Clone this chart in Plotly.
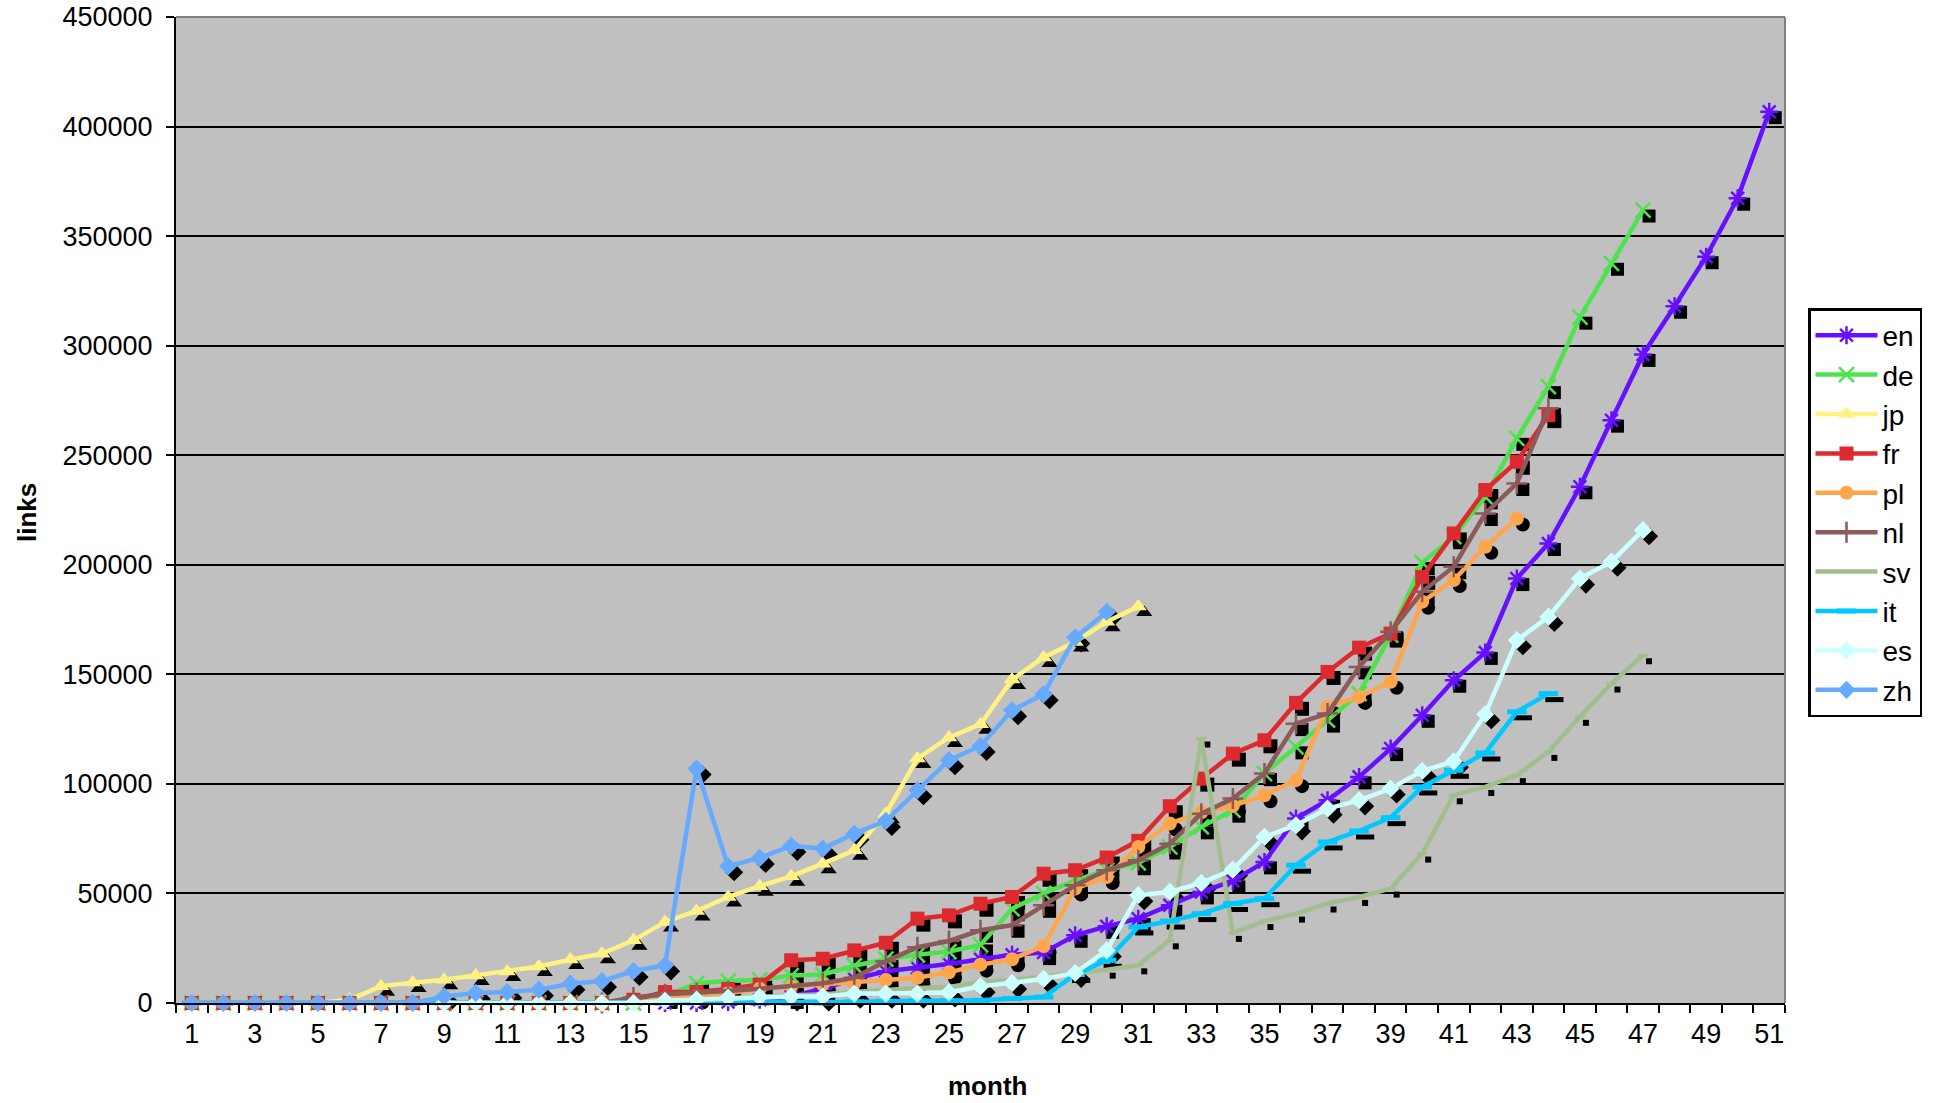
import plotly.graph_objects as go

# ---------------- data ----------------
months = list(range(1, 52))
tick_months = list(range(1, 52, 2))
y_ticks = list(range(0, 450001, 50000))

en_start = 16
en = [0, 0, 500, 1500, 3000, 6500, 11000, 14500, 16000, 17800, 20000, 22000, 23000,
      30900, 35000, 38500, 44600, 50700, 55700, 64400, 84200, 92500, 103200, 116100,
      131300, 147300, 160000, 193700, 209700, 235600, 266000, 296000, 318000, 340600,
      367300, 406800]

de_start = 1
de = [0] * 15 + [3000, 9000, 10000, 10500, 12500, 13000, 17000, 20000, 22000, 23500, 26500,
                 43000, 50000, 56000, 60600, 64000, 71200, 80400, 88000, 104700, 116900,
                 129100, 141200, 167900, 201000, 212800, 231000, 257700, 281300, 313000,
                 337600, 361900]

jp_start = 1
jp = [0, 0, 0, 0, 0, 1500, 7700, 9300, 10600, 12600, 14400, 16700, 19800, 22500, 28600,
      37000, 42000, 48400, 53300, 57800, 63600, 69700, 86400, 111600, 121200, 127200,
      147600, 157700, 164800, 174000, 181000]

fr_start = 1
fr = [0] * 14 + [1500, 5000, 5000, 6400, 8400, 19500, 20200, 24000, 27500, 38500, 40000,
                 45300, 48400, 59000, 60600, 66400, 74000, 89800, 102400, 113800, 119900,
                 137000, 151100, 162200, 168600, 194500, 214300, 234100, 247000, 268300]

pl_start = 1
pl = [0] * 15 + [2000, 3000, 4500, 6500, 7500, 8500, 9000, 10500, 11500, 14000, 17500,
                 20000, 26000, 52200, 57500, 71200, 81900, 87000, 90000, 94800, 101700,
                 135200, 139700, 146600, 183100, 193000, 208200, 221100]

nl_start = 14
nl = [0, 2500, 4000, 4600, 5500, 6500, 7600, 9000, 11500, 19000, 25500, 28300, 33200,
      35500, 44600, 53700, 60600, 65100, 72700, 86400, 93300, 104700, 127500, 132100,
      153400, 169400, 187700, 199100, 223400, 237100, 271400]

sv_start = 16
sv = [1000, 1500, 2000, 2500, 3000, 4000, 5000, 6000, 6800, 7300, 9600, 10500, 11900,
      13400, 15200, 17200, 28600, 120700, 32000, 37400, 40800, 45400, 48400, 52200,
      68200, 94800, 98600, 104000, 114600, 130600, 145800, 158700]

it_start = 1
it = [0] * 21 + [500, 800, 1000, 1000, 1200, 2000, 2700, 13000, 19500, 34700, 37400,
                 40800, 45400, 47600, 62900, 73500, 78500, 84600, 98600, 106200, 114100,
                 132900, 141200]

es_start = 9
es = [0] * 7 + [1000, 1500, 2400, 2700, 3000, 3000, 4300, 4300, 4300, 4800, 7600, 9100,
                11000, 13700, 24000, 49200, 50700, 54800, 60900, 75800, 81100, 88700,
                92500, 97900, 105900, 110300, 131800, 165600, 176200, 193700, 201400,
                215800]

zh_start = 1
zh = [0] * 8 + [3000, 4600, 5000, 6100, 8800, 10000, 14600, 17200, 107000, 62400, 66200,
                71700, 70500, 77300, 83100, 97100, 110800, 117300, 133600, 140900, 166800,
                178500]

series = [
    ("en", en_start, en), ("de", de_start, de), ("jp", jp_start, jp),
    ("fr", fr_start, fr), ("pl", pl_start, pl), ("nl", nl_start, nl),
    ("sv", sv_start, sv), ("it", it_start, it), ("es", es_start, es),
    ("zh", zh_start, zh),
]

# ---------------- styles ----------------
colors = {"en": "#6610FF", "de": "#4FE24F", "jp": "#FFF283", "fr": "#DC2A2E",
          "pl": "#FFA64D", "nl": "#8C5A5A", "sv": "#A2BE8E", "it": "#00C8FF",
          "es": "#CCFFFF", "zh": "#66AAFF"}
markers = {
    "en": dict(symbol="asterisk-open", size=15, line=dict(width=2.5)),
    "de": dict(symbol="x-thin-open", size=15, line=dict(width=2.5)),
    "jp": dict(symbol="triangle-up", size=15, line=dict(width=0)),
    "fr": dict(symbol="square", size=14, line=dict(width=0)),
    "pl": dict(symbol="circle", size=14, line=dict(width=0)),
    "nl": dict(symbol="cross-thin-open", size=15, line=dict(width=2.5)),
    "sv": dict(symbol="line-ew-open", size=7, line=dict(width=3)),
    "it": dict(symbol="line-ew-open", size=14, line=dict(width=5)),
    "es": dict(symbol="diamond", size=14, line=dict(width=0)),
    "zh": dict(symbol="diamond", size=14, line=dict(width=0)),
}
shadow_markers = {
    "en": dict(symbol="square", size=13), "de": dict(symbol="square", size=13),
    "jp": dict(symbol="triangle-up", size=14), "fr": dict(symbol="square", size=14),
    "pl": dict(symbol="circle", size=14), "nl": dict(symbol="square", size=13),
    "sv": dict(symbol="square", size=6), "it": dict(symbol="line-ew-open", size=13,
                                                    line=dict(width=5, color="black")),
    "es": dict(symbol="diamond", size=14), "zh": dict(symbol="diamond", size=14),
}

W, H = 1942, 1103
ML, MR, MT, MB = 176, 157, 17, 100
plot_w = W - ML - MR
plot_h = H - MT - MB
x_range = [0.5, 51.5]
y_range = [0, 450000]
shift_px = 6
dx = shift_px * (x_range[1] - x_range[0]) / plot_w
dy = shift_px * (y_range[1] - y_range[0]) / plot_h

fig = go.Figure()

# invisible anchor trace for the base axes (ticks, grid)
fig.add_trace(go.Scatter(x=[months[0]], y=[y_ticks[0]], mode="markers",
                         marker=dict(opacity=0), showlegend=False, hoverinfo="skip"))

# shadows (drawn on shifted overlay axes)
for name, start, vals in series:
    xs = months[start - 1:start - 1 + len(vals)]
    m = dict(color="black")
    m.update(shadow_markers[name])
    fig.add_trace(go.Scatter(x=xs, y=vals, mode="markers", marker=m, xaxis="x2",
                             yaxis="y2", showlegend=False, hoverinfo="skip",
                             cliponaxis=False))

# series
for name, start, vals in series:
    xs = months[start - 1:start - 1 + len(vals)]
    m = dict(color=colors[name])
    m.update(markers[name])
    if "line" in m:
        m["line"] = dict(m["line"], color=colors[name])
    fig.add_trace(go.Scatter(x=xs, y=vals, mode="lines+markers", name=name,
                             legendgroup=name,
                             line=dict(color=colors[name], width=4.5), marker=m,
                             xaxis="x3", yaxis="y3", cliponaxis=False))

font_family = "Arial, Liberation Sans, sans-serif"
fig.update_layout(
    width=W, height=H,
    margin=dict(l=ML, r=MR, t=MT, b=MB, pad=0, autoexpand=False),
    paper_bgcolor="white", plot_bgcolor="#C0C0C0",
    font=dict(family=font_family, size=26, color="black"),
    showlegend=True,
    xaxis=dict(range=x_range, tickvals=tick_months, ticktext=[str(v) for v in tick_months],
               ticks="", showgrid=False, zeroline=False, showline=True,
               linecolor="black", linewidth=2, ticklabelstandoff=6, automargin=False,
               tickfont=dict(size=27),
               minor=dict(tick0=0.5, dtick=1, ticks="outside", ticklen=8,
                          tickwidth=2, tickcolor="black", showgrid=False)),
    yaxis=dict(range=y_range, tickvals=y_ticks, tickformat="d", ticks="outside",
               ticklen=8, tickwidth=2, automargin=False,
               tickcolor="black", showgrid=True, gridcolor="black", gridwidth=2,
               zeroline=False, showline=True, linecolor="black", linewidth=2,
               tickfont=dict(size=27), ticklabelstandoff=8),
    xaxis2=dict(range=[x_range[0] - dx, x_range[1] - dx], overlaying="x", anchor="y2",
                visible=False),
    yaxis2=dict(range=[y_range[0] + dy, y_range[1] + dy], overlaying="y", anchor="x2",
                visible=False),
    xaxis3=dict(range=x_range, overlaying="x", anchor="y3", visible=False),
    yaxis3=dict(range=y_range, overlaying="y", anchor="x3", visible=False),
    legend=dict(x=(1808 - ML) / plot_w, y=(H - MB - 308) / plot_h, xanchor="left",
                yanchor="top", bgcolor="white", bordercolor="black", borderwidth=2.5,
                font=dict(size=28), tracegroupgap=18, traceorder="normal",
                itemwidth=62),
    shapes=[
        dict(type="line", xref="paper", yref="paper", x0=0, x1=1, y0=1, y1=1,
             line=dict(color="#808080", width=2), layer="above"),
        dict(type="line", xref="paper", yref="paper", x0=1, x1=1, y0=0, y1=1,
             line=dict(color="#808080", width=2), layer="above"),
    ],
    annotations=[
        dict(text="<b>links</b>", xref="paper", yref="paper",
             x=(27 - ML) / plot_w, y=(H - MB - 513) / plot_h, textangle=-90,
             showarrow=False, font=dict(size=26), xanchor="center", yanchor="middle"),
        dict(text="<b>month</b>", xref="paper", yref="paper",
             x=(987 - ML) / plot_w, y=(H - MB - 1086) / plot_h,
             showarrow=False, font=dict(size=26), xanchor="center", yanchor="middle"),
    ],
)

fig.write_html("out.html", config={"displayModeBar": False},
               post_script="document.body.style.margin='0';")
